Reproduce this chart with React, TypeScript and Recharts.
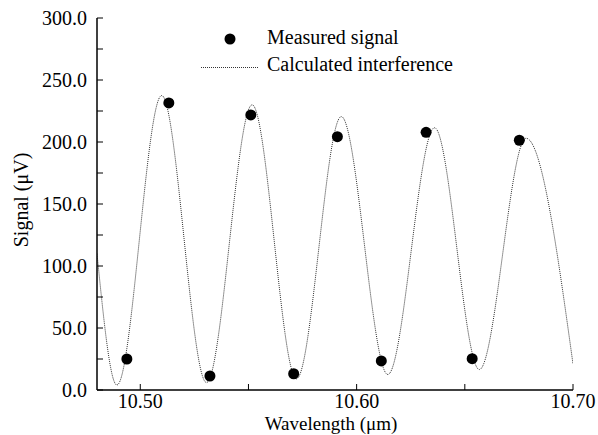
import React from "react";
import { ComposedChart, Line, Scatter, XAxis, YAxis, Legend, Label } from "recharts";

const FONT = "'Liberation Serif', 'DejaVu Serif', 'Noto Serif', Times, serif";
const FS = 20;

// measured points (wavelength in µm, signal in µV)
const measuredWavelength = [10.4938, 10.5132, 10.5322, 10.5511, 10.5709, 10.5911, 10.6114, 10.6321, 10.6534, 10.6752];
const measuredSignal = [25, 231.5, 11.3, 221.8, 13.1, 204.3, 23.4, 207.8, 25.3, 201.4];

// calculated interference curve, read at its turning points
const calcWavelength = [10.48, 10.4892, 10.5099, 10.5306, 10.5517, 10.5722, 10.5929, 10.6144, 10.636, 10.6567, 10.6783, 10.7];
const calcSignal = [110, 4, 237.5, 6, 230, 9, 220.5, 12.5, 211.5, 16.5, 203, 21];

const xTicks = [10.5, 10.55, 10.6, 10.65, 10.7];
const xLabelled = [10.5, 10.6, 10.7];
const yTicks = [0, 25, 50, 75, 100, 125, 150, 175, 200, 225, 250, 275, 300];
const yLabelled = [0, 50, 100, 150, 200, 250, 300];

const measured = measuredWavelength.map((x, i) => ({ x, y: measuredSignal[i] }));
const calculated = calcWavelength.map((x, i) => ({ x, y: calcSignal[i] }));

const tickStyle = { fill: "#000", fontSize: FS, fontFamily: FONT };
const axisLine = { stroke: "#000", strokeWidth: 1.5 };
const tickLine = { stroke: "#000", strokeWidth: 1 };

const renderLegend = () => (
  <div style={{ fontFamily: FONT, fontSize: FS, color: "#000" }}>
    <div style={{ display: "flex", alignItems: "center", height: 27, lineHeight: "27px" }}>
      <svg width={72} height={27}>
        <circle cx={35} cy={15} r={5.5} fill="#000" />
      </svg>
      <span>Measured signal</span>
    </div>
    <div style={{ display: "flex", alignItems: "center", height: 27, lineHeight: "27px" }}>
      <svg width={72} height={27}>
        <line x1={6} x2={64} y1={16.5} y2={16.5} stroke="#333" strokeWidth={1} strokeDasharray="1 1" />
      </svg>
      <span>Calculated interference</span>
    </div>
  </div>
);

export default function App() {
  return (
    <div style={{ position: "absolute", left: 0, top: 0, fontFamily: FONT }}>
      <ComposedChart width={598} height={435} margin={{ top: 18, right: 25, bottom: 0, left: 0 }}>
        <XAxis
          type="number"
          dataKey="x"
          domain={[10.48, 10.7]}
          ticks={xTicks}
          interval={0}
          allowDataOverflow
          height={45}
          tickSize={-6}
          tickMargin={10}
          axisLine={axisLine}
          tickLine={tickLine}
          tick={tickStyle}
          tickFormatter={(v: number) => (xLabelled.some((t) => Math.abs(t - v) < 1e-6) ? v.toFixed(2) : "")}
        >
          <Label
            content={() => (
              <text x={331} y={430} textAnchor="middle" fontFamily={FONT} fontSize={19} fill="#000">
                Wavelength (μm)
              </text>
            )}
          />
        </XAxis>
        <XAxis
          xAxisId="top"
          orientation="top"
          type="number"
          domain={[10.48, 10.7]}
          ticks={xTicks}
          interval={0}
          height={0}
          tickSize={-6}
          axisLine={axisLine}
          tickLine={tickLine}
          tickFormatter={() => ""}
        />
        <YAxis
          type="number"
          domain={[0, 300]}
          ticks={yTicks}
          interval={0}
          width={97}
          tickSize={-6}
          tickMargin={16}
          axisLine={axisLine}
          tickLine={tickLine}
          tick={tickStyle}
          tickFormatter={(v: number) => (yLabelled.includes(v) ? v.toFixed(1) : "")}
        >
          <Label
            content={() => (
              <text
                x={28}
                y={200}
                transform="rotate(-90 28 200)"
                textAnchor="middle"
                fontFamily={FONT}
                fontSize={FS}
                fill="#000"
              >
                Signal (μV)
              </text>
            )}
          />
        </YAxis>
        <YAxis
          yAxisId="right"
          orientation="right"
          type="number"
          domain={[0, 300]}
          ticks={yTicks}
          interval={0}
          width={0}
          tickSize={-6}
          axisLine={axisLine}
          tickLine={tickLine}
          tickFormatter={() => ""}
        />
        <Legend
          layout="horizontal"
          verticalAlign="middle"
          align="center"
          content={renderLegend}
          wrapperStyle={{ position: "absolute", left: 195, top: 24, width: "auto" }}
        />
        <Line
          data={calculated}
          dataKey="y"
          type="monotone"
          stroke="#333"
          strokeWidth={1}
          strokeDasharray="1 1"
          dot={false}
          activeDot={false}
          isAnimationActive={false}
        />
        <Scatter
          data={measured}
          dataKey="y"
          fill="#000"
          shape={(p: any) => <circle cx={p.cx} cy={p.cy} r={5.5} fill="#000" />}
          isAnimationActive={false}
        />
      </ComposedChart>
    </div>
  );
}
